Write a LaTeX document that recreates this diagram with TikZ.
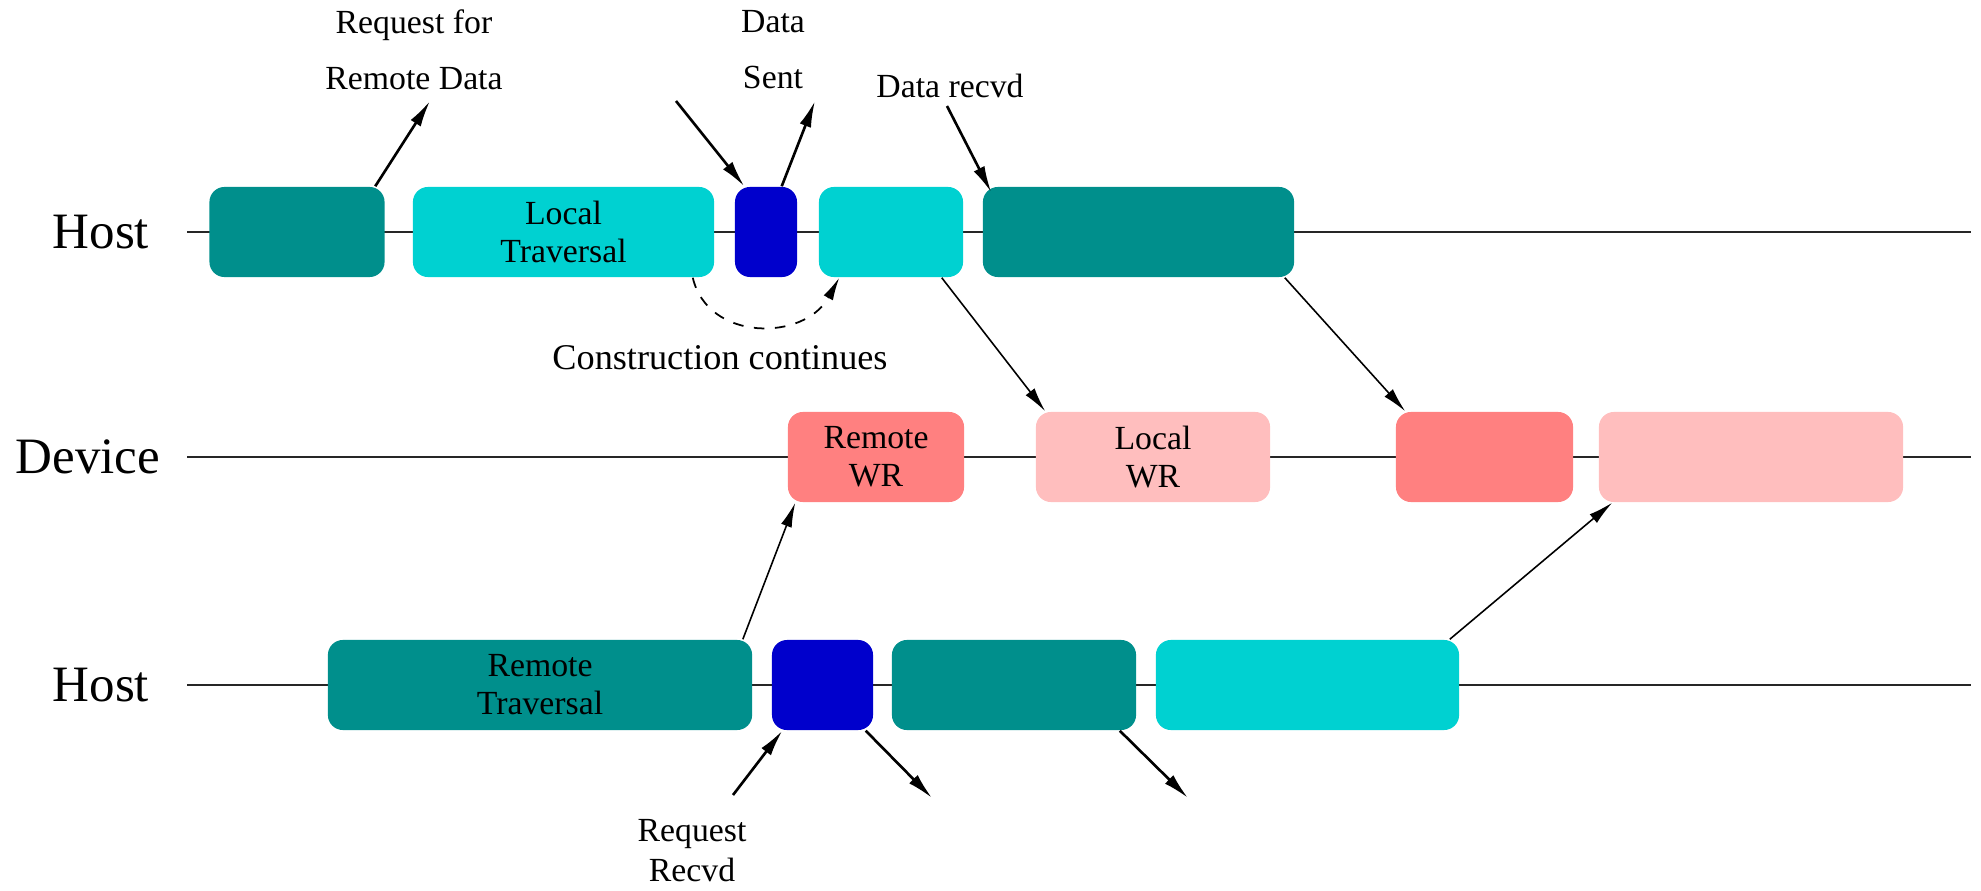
\documentclass[tikz,border=0pt]{standalone}
\usepackage{fontspec}
\setmainfont{Liberation Serif}
\usetikzlibrary{arrows.meta}

\definecolor{hostdark}{RGB}{0,143,140}
\definecolor{hostlight}{RGB}{0,209,209}
\definecolor{hostcomm}{RGB}{0,0,204}
\definecolor{devdark}{RGB}{255,128,128}
\definecolor{devlight}{RGB}{255,190,190}

\begin{document}
\begin{tikzpicture}[
    x=0.01cm, y=-0.01cm,
    phase/.style={rounded corners=0.15cm, inner sep=0pt, minimum height=0.9cm, align=center, font=\fontsize{9.6}{10.8}\selectfont},
    lane/.style={font=\fontsize{14.5}{17}\selectfont},
    note/.style={align=center, font=\fontsize{9.6}{15.9}\selectfont},
    timeline/.style={line width=0.55pt, draw=black!85},
    msg/.style={line width=0.75pt, -{Latex[length=7.5pt,width=3.4pt]}},
    hop/.style={line width=0.45pt, -{Latex[length=7pt,width=3.2pt]}},
    contline/.style={dashed, line width=0.5pt, -{Latex[length=6.5pt,width=3pt]}}
]
    \useasboundingbox (0,0) rectangle (1981,891);

    % ==================== TIMELINES ====================
    \node[lane] (hostA) at (101,232) {Host};
    \node[lane] (device) at (88,457) {Device};
    \node[lane] (hostB) at (101,685) {Host};

    \coordinate (hAs) at (187,232);  \coordinate (hAe) at (1971,232);
    \coordinate (ds)  at (187,457);  \coordinate (de)  at (1971,457);
    \coordinate (hBs) at (187,685);  \coordinate (hBe) at (1971,685);
    \draw[timeline] (hAs) -- (hAe);
    \draw[timeline] (ds) -- (de);
    \draw[timeline] (hBs) -- (hBe);

    % ==================== TOP HOST ====================
    \node[phase, fill=hostdark,  minimum width=1.75cm] (h1) at (297,232) {};
    \node[phase, fill=hostlight, minimum width=3.01cm] (h2) at (563.5,232) {Local\\Traversal};
    \node[phase, fill=hostcomm,  minimum width=0.62cm] (h3) at (766,232) {};
    \node[phase, fill=hostlight, minimum width=1.44cm] (h4) at (891,232) {};
    \node[phase, fill=hostdark,  minimum width=3.11cm] (h5) at (1138.5,232) {};

    % ==================== DEVICE ====================
    \node[phase, fill=devdark,  minimum width=1.76cm] (d1) at (876,457) {Remote\\WR};
    \node[phase, fill=devlight, minimum width=2.34cm] (d2) at (1153,457) {Local\\WR};
    \node[phase, fill=devdark,  minimum width=1.77cm] (d3) at (1484.5,457) {};
    \node[phase, fill=devlight, minimum width=3.04cm] (d4) at (1751,457) {};

    % ==================== BOTTOM HOST ====================
    \node[phase, fill=hostdark,  minimum width=4.24cm] (b1) at (540,685) {Remote\\Traversal};
    \node[phase, fill=hostcomm,  minimum width=1.01cm] (b2) at (822.5,685) {};
    \node[phase, fill=hostdark,  minimum width=2.44cm] (b3) at (1014,685) {};
    \node[phase, fill=hostlight, minimum width=3.03cm] (b4) at (1307.5,685) {};

    % ==================== LABELS ====================
    \node[note] (reqlbl) at (414,50) {Request for\\Remote Data};
    \node[note] (sentlbl) at (773,50) {Data\\Sent};
    \node[note] (rcvlbl) at (950,86) {Data recvd};
    \node[note, font=\fontsize{10.3}{12}\selectfont] (contlbl) at (720,358) {Construction continues};
    \node[note, font=\fontsize{9.6}{11.4}\selectfont] (rrlbl) at (692,851) {Request\\Recvd};

    % ==================== MESSAGES ====================
    \coordinate (reqtip) at (430,101);
    \coordinate (insrc)  at (676,101);
    \coordinate (senttip) at (815,101);
    \coordinate (rcvsrc) at (947,106);
    \coordinate (rrsrc)  at (733,795);
    \coordinate (out1)   at (932,798);
    \coordinate (out2)   at (1188,798);

    \draw[msg] ([xshift=-0.1cm]h1.north east) -- (reqtip);
    \draw[msg] (insrc) -- ([xshift=0.1cm]h3.north west);
    \draw[msg] ([xshift=-0.16cm]h3.north east) -- (senttip);
    \draw[msg] (rcvsrc) -- ([xshift=0.09cm, yshift=-0.06cm]h5.north west);
    \draw[contline] ([xshift=-0.22cm]h2.south east) .. controls +(15,64) and +(-35,64) .. ([xshift=0.21cm]h4.south west);

    \draw[hop] ([xshift=-0.22cm]h4.south east) -- ([xshift=0.1cm]d2.north west);
    \draw[hop] ([xshift=-0.1cm]h5.south east) -- ([xshift=0.1cm]d3.north west);
    \draw[hop] ([xshift=-0.1cm]b1.north east) -- ([xshift=0.08cm]d1.south west);
    \draw[hop] ([xshift=-0.1cm]b4.north east) -- ([xshift=0.14cm]d4.south west);

    \draw[msg] (rrsrc) -- ([xshift=0.11cm]b2.south west);
    \draw[msg] ([xshift=-0.08cm]b2.south east) -- (out1);
    \draw[msg] ([xshift=-0.17cm]b3.south east) -- (out2);

\end{tikzpicture}
\end{document}
